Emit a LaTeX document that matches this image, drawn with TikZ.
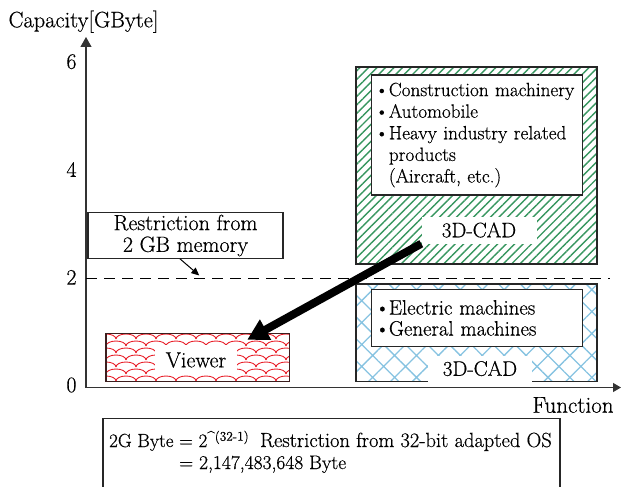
\documentclass[tikz,border=0pt]{standalone}
\usepackage{fontspec}
\setmainfont{Latin Modern Roman}[FakeBold=0.5]
\usetikzlibrary{patterns.meta,arrows.meta}
\definecolor{hatchgreen}{RGB}{55,150,95}
\definecolor{hatchblue}{RGB}{135,195,225}
\definecolor{wavered}{RGB}{232,32,42}
\definecolor{boxdark}{RGB}{60,30,30}
\tikzset{
  axisline/.style={line width=1.2pt, draw=black!80},
  outerbox/.style={draw=black!85, line width=1.2pt},
  ibox/.style={draw=black!85, fill=white, line width=1.1pt, inner sep=0pt, align=left},
  whitelabel/.style={fill=white, inner sep=0pt},
  lbl/.style={inner sep=0pt},
  greenhatch/.style={pattern={Lines[angle=45,distance=6pt,line width=1.4pt]}, pattern color=hatchgreen},
  bluecross/.style={pattern={Hatch[angle=45,distance=15.5pt,line width=1.3pt]}, pattern color=hatchblue},
  bigarrow/.style={line width=8pt, -{Triangle[length=21pt,width=22pt]}},
  smallarrow/.style={line width=1pt, -{Triangle[length=8pt,width=7pt]}},
}
\newcommand{\bul}{\makebox[14pt][l]{\textbullet}}
\newcommand{\ind}{\hspace*{14pt}}
\begin{document}
\begin{tikzpicture}[x=1pt,y=-1pt, font=\fontsize{22}{23}\selectfont]
\useasboundingbox (0,0) rectangle (621,487);

% axes
\coordinate (orig) at (86,387.5);
\coordinate (ytip) at (86,37);
\coordinate (xtip) at (621,387.5);
\draw[axisline, -{Triangle[length=10pt,width=11pt]}] (orig) -- (ytip);
\draw[axisline, -{Triangle[length=8pt,width=9pt]}] (orig) -- (xtip);
\node[lbl, font=\fontsize{22.4}{23}\selectfont] (ylab) at (83.5,21.7) {Capacity[GByte]};
\node[lbl, font=\fontsize{23}{24}\selectfont] (xlab) at (573,405) {Function};
\node[lbl] (t6) at (71.5,61.7) {6};
\node[lbl] (t4) at (71.5,169.5) {4};
\node[lbl] (t2) at (71.5,277.3) {2};
\node[lbl] (t0) at (71.5,385) {0};

% dashed limit line
\coordinate (dl) at (86,278);
\coordinate (dr) at (610,278);
\draw[line width=1pt, dash pattern=on 11pt off 7pt] (dl) -- (dr);

% green box
\draw[outerbox, greenhatch] (356,67) rectangle (597,264);
\node[ibox, minimum width=211pt, minimum height=120pt, text width=205pt,
  font=\fontsize{19.2}{21.6}\selectfont] (glist) at (477.4,135)
  {\bul Construction machinery\\ \bul Automobile\\ \bul Heavy industry related\\ \ind products\\ \ind(Aircraft, etc.)};
\node[whitelabel, minimum width=115pt, minimum height=27pt, font=\fontsize{21}{22}\selectfont] (cad1) at (479,230) {3D-CAD};

% blue box
\draw[outerbox, bluecross] (356,284) rectangle (597,381.7);
\node[ibox, minimum width=211pt, minimum height=57.4pt, text width=205pt,
  font=\fontsize{20.8}{21}\selectfont] (blist) at (477.4,318)
  {\bul Electric machines\\ \bul General machines};
\node[whitelabel, minimum width=104pt, minimum height=26pt, font=\fontsize{21}{22}\selectfont] (cad2) at (480,368.5) {3D-CAD};

% red box with waves
\begin{scope}
  \clip (106,333.3) rectangle (289.3,381.7);
  \foreach \r in {0,...,7} {
    \foreach \c in {0,...,10} {
      \pgfmathsetmacro{\xx}{96+20*\c+10*mod(\r,2)}
      \pgfmathsetmacro{\yy}{339+7*\r}
      \draw[wavered, line width=0.9pt] (\xx,\yy) arc[start angle=180, end angle=360, x radius=10, y radius=5];
    }
  }
\end{scope}
\draw[draw=boxdark, line width=1.2pt] (106,333.3) rectangle (289.3,381.7);
\node[whitelabel, minimum width=82pt, minimum height=30pt] (viewer) at (196,360) {Viewer};

% restriction box
\node[draw=black!85, fill=white, line width=1.1pt, minimum width=195pt, minimum height=45.6pt,
  align=center, inner sep=0pt, font=\fontsize{22}{21.7}\selectfont] (restr) at (185.5,235.5)
  {Restriction from\\ 2 GB memory};
\coordinate (lim) at (199.3,275.5);
\draw[smallarrow] ([xshift=-5.5pt]restr.south) -- (lim);

% big arrow
\draw[bigarrow] (cad1.south west) -- ([xshift=10pt,yshift=5pt]viewer.north east);

% bottom note box
\coordinate (bbl) at (103,490);
\coordinate (bbr) at (560,490);
\draw[line width=1.1pt, draw=black!85] (bbl) -- (103,418.5) -- (560,418.5) -- (bbr);
\node[lbl, anchor=base west, font=\fontsize{19}{20}\selectfont] (n1) at (109,447) {2G Byte};
\node[lbl, anchor=base west, font=\fontsize{19}{20}\selectfont] (n2) at (179,447) {= 2\textsuperscript{\textasciicircum(32-1)}};
\node[lbl, anchor=base east, font=\fontsize{20.5}{22}\selectfont] (n3) at (552,447) {Restriction from 32-bit adapted OS};
\node[lbl, anchor=base west, font=\fontsize{19.5}{21}\selectfont] (n4) at (179,469) {= 2,147,483,648 Byte};
\end{tikzpicture}
\end{document}
